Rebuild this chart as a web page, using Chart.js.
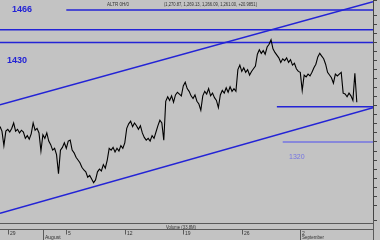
<!DOCTYPE html>
<html>
<head>
<meta charset="utf-8">
<script src="https://cdn.jsdelivr.net/npm/chart.js@4.4.1/dist/chart.umd.min.js"></script>
<style>
  html, body { margin: 0; padding: 0; background: #c3c3c3; }
  #wrap { width: 380px; height: 240px; position: relative; }
</style>
</head>
<body>
<div id="wrap"><canvas id="chart"></canvas></div>
<script>
/* ── DATA ──────────────────────────────────────────────────── */
// hourly closes, 6 per trading day, starting late on Jul 26
const closes = [
  1337, 1332, 1316, 1332, 1334, 1331, 1335, 1341, 1332, 1334, 1330, 1333, 1331, 1324, 1327, 1323,
  1329, 1341, 1333, 1335, 1330, 1310, 1328, 1324, 1330, 1321, 1317, 1311, 1313, 1306, 1285, 1311,
  1314, 1319, 1313, 1321, 1322, 1311, 1308, 1303, 1300, 1297, 1292, 1289, 1287, 1281, 1283,
  1279, 1275, 1278, 1287, 1290, 1288, 1295, 1291, 1300, 1313, 1311, 1314, 1309, 1313, 1310, 1316,
  1313, 1319, 1335, 1340, 1343, 1337, 1341, 1338, 1334, 1338, 1330, 1325, 1322, 1324, 1321, 1327,
  1324, 1331, 1338, 1344, 1341, 1322, 1365, 1370, 1366, 1371, 1364, 1372, 1375, 1373,
  1371, 1382, 1386, 1379, 1376, 1371, 1368, 1372, 1365, 1362, 1355, 1371, 1376, 1373, 1379, 1371,
  1374, 1369, 1366, 1358, 1372, 1377, 1374, 1380, 1375, 1381, 1376, 1379, 1376, 1400, 1405, 1398,
  1402, 1397, 1400, 1394, 1398, 1401, 1404, 1417, 1422, 1418, 1421, 1417, 1425, 1428,
  1433, 1423, 1419, 1416, 1413, 1408, 1412, 1410, 1413, 1408, 1411, 1405, 1407, 1401, 1398, 1397,
  1377, 1394, 1392, 1395, 1393, 1397, 1402, 1406, 1414, 1418, 1415, 1412, 1406, 1397, 1394, 1391,
  1385, 1395, 1393, 1395,
  1397, 1374, 1373, 1370, 1374, 1371, 1366, 1396, 1364
];
const pointsPerDay = 6;
const firstDayIndex = 5;            // Jul 29 open
const xMax = 191.3;
const yMin = 1233.7;
const yMax = 1477;

const weekLabels  = ['29', '5', '12', '19', '26', '2'];
const monthLabels = ['August', 'September'];
const monthDays   = [3, 25];        // trading days after Jul 29

const levelPrices = [1466, 1444, 1430, 1359, 1320];
const levelStarts = [34, 0, 0, 142, 145];
const upperTrend  = [1361, 1475];   // price at x = 0 and x = xMax
const lowerTrend  = [1241, 1358];

const levelLabels = ['1466', '1430', '1320'];
const titleText   = 'ALTR 0H/0';
const quoteText   = '(1,270.87, 1,269.13, 1,266.09, 1,261.00, +20.9851)';
const volumeText  = 'Volume (33,8M)';

/* ── DATASETS ──────────────────────────────────────────────── */
const BLUE = '#2323d6';
const LIGHT_BLUE = '#7474e2';

const datasets = [{
  data: closes.map((v, i) => ({ x: i, y: v })),
  borderColor: '#000', borderWidth: 1.1, pointRadius: 0, tension: 0, order: 0
}];

levelPrices.forEach((p, k) => {
  datasets.push({
    data: [{ x: levelStarts[k], y: p }, { x: xMax, y: p }],
    borderColor: k === 4 ? LIGHT_BLUE : BLUE,
    borderWidth: 1.5, pointRadius: 0, order: 1
  });
});

[upperTrend, lowerTrend].forEach(t => {
  datasets.push({
    data: [{ x: 0, y: t[0] }, { x: xMax, y: t[1] }],
    borderColor: BLUE, borderWidth: 1.5, pointRadius: 0, order: 1
  });
});

/* ── DECORATION PLUGIN ─────────────────────────────────────── */
const stripPlugin = {
  id: 'strip',
  afterDraw(chart) {
    const { ctx, chartArea: a, scales: { x } } = chart;
    const H = chart.height;
    ctx.save();

    // header texts
    ctx.fillStyle = '#333';
    ctx.font = '5px "Liberation Sans"';
    ctx.textBaseline = 'alphabetic';
    ctx.fillText(titleText, 107, 6, 22);
    ctx.fillText(quoteText, 164, 6, 93);

    // level labels
    ctx.fillStyle = BLUE;
    ctx.font = 'bold 9px "Liberation Sans"';
    ctx.fillText(levelLabels[0], 12, 12);
    ctx.fillText(levelLabels[1], 7, 63);
    ctx.fillStyle = LIGHT_BLUE;
    ctx.font = '7px "Liberation Sans"';
    ctx.fillText(levelLabels[2], 289, 159);

    // volume pane
    ctx.strokeStyle = '#5a5a5a';
    ctx.lineWidth = 1;
    const vTop = a.bottom + 3.5, vBot = a.bottom + 9.5;
    ctx.beginPath();
    ctx.moveTo(0, vTop); ctx.lineTo(a.right, vTop);
    ctx.moveTo(0, vBot); ctx.lineTo(a.right, vBot);
    ctx.moveTo(a.right + 0.5, a.bottom); ctx.lineTo(a.right + 0.5, H);
    ctx.stroke();
    ctx.fillStyle = '#333';
    ctx.font = '5px "Liberation Sans"';
    ctx.fillText(volumeText, 166, vTop + 5, 30);

    // date ticks
    ctx.font = '5px "Liberation Sans"';
    weekLabels.forEach((lab, k) => {
      const px = Math.round(x.getPixelForValue(firstDayIndex + k * 5 * pointsPerDay)) - 1.5;
      ctx.beginPath();
      ctx.moveTo(px, vBot); ctx.lineTo(px, vBot + 5);
      ctx.stroke();
      ctx.fillText(lab, px + 1.5, vBot + 5);
    });
    monthLabels.forEach((lab, k) => {
      const px = Math.round(x.getPixelForValue(firstDayIndex + monthDays[k] * pointsPerDay)) - 1.5;
      ctx.beginPath();
      ctx.moveTo(px, vBot); ctx.lineTo(px, H);
      ctx.stroke();
      ctx.fillText(lab, px + 1.5, H - 1, 22);
    });
    ctx.restore();
  }
};

/* ── CHART ─────────────────────────────────────────────────── */
new Chart(document.getElementById('chart'), {
  type: 'line',
  data: { datasets },
  options: {
    responsive: true, maintainAspectRatio: false, animation: false,
    layout: { padding: { left: 0, top: 0, right: 0, bottom: 20 } },
    plugins: { legend: { display: false }, tooltip: { enabled: false } },
    scales: {
      x: { type: 'linear', min: 0, max: xMax, display: false },
      y: {
        position: 'right', min: yMin, max: yMax,
        ticks: { display: false, stepSize: 10 },
        grid: { drawOnChartArea: false, tickLength: 4, color: '#444' },
        border: { color: '#444' },
        afterFit: s => { s.width = 7; }
      }
    }
  },
  plugins: [stripPlugin]
});
</script>
</body>
</html>
